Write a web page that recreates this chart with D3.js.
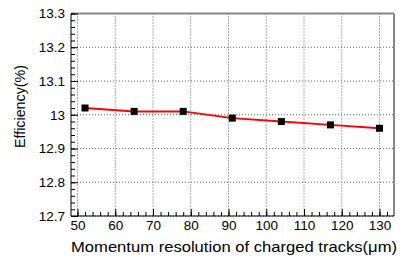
<!DOCTYPE html>
<html><head><meta charset="utf-8">
<script src="https://cdn.jsdelivr.net/npm/d3@7"></script>
<style>body{margin:0;background:#fff}svg{display:block}text{font-family:"Liberation Sans",Arial,sans-serif}</style>
</head><body><svg id="c" width="415" height="271"></svg>
<script>
const resolution = [52, 65, 78, 91, 104, 117, 130];
const efficiency = [13.02, 13.01, 13.01, 12.99, 12.98, 12.97, 12.96];
const xTicks = [50, 60, 70, 80, 90, 100, 110, 120, 130];
const yTicks = [12.7, 12.8, 12.9, 13.0, 13.1, 13.2, 13.3];
const yTickLabels = ["12.7", "12.8", "12.9", "13", "13.1", "13.2", "13.3"];
const xTitle = "Momentum resolution of charged tracks(\u03bcm)";
const yTitle = "Efficiency(%)";

const L = 71, R = 394, T = 13.5, B = 216;
const svg = d3.select("#c");
const x = d3.scaleLinear().domain([48.28, 133.84]).range([L, R]);
const y = d3.scaleLinear().domain([12.7, 13.3]).range([B, T]);

// grid
const g = svg.append("g");
xTicks.forEach(v => g.append("line").attr("x1", x(v)).attr("x2", x(v)).attr("y1", T).attr("y2", B)
  .attr("stroke", "#666").attr("stroke-width", 1).attr("stroke-dasharray", "1,2"));
yTicks.forEach(v => g.append("line").attr("x1", L).attr("x2", R).attr("y1", y(v)).attr("y2", y(v))
  .attr("stroke", "#666").attr("stroke-width", 1).attr("stroke-dasharray", "1,2"));

// frame top/right
svg.append("line").attr("x1", L).attr("x2", R).attr("y1", T).attr("y2", T).attr("stroke", "#888").attr("stroke-width", 2);
svg.append("line").attr("x1", R).attr("x2", R).attr("y1", T).attr("y2", B).attr("stroke", "#888").attr("stroke-width", 2);

// axes
const xMinor = d3.range(50, 134, 2);
const yMinor = d3.range(0, 31).map(i => 12.7 + i * 0.02);
const xAxis = d3.axisBottom(x).tickValues(xTicks).tickSize(-7).tickFormat(d3.format("d")).tickPadding(4);
const xa = svg.append("g").attr("transform", `translate(0,${B})`).call(xAxis);
xa.select(".domain").attr("d", `M${L},0H${R}`).attr("stroke", "#000");
xa.selectAll("text").attr("font-size", 13.5).attr("fill", "#000");
const xm = svg.append("g").attr("transform", `translate(0,${B})`).call(d3.axisBottom(x).tickValues(xMinor).tickSize(-4).tickFormat(""));
xm.select(".domain").remove();

const yAxis = d3.axisLeft(y).tickValues(yTicks).tickSize(-7).tickFormat((d, i) => yTickLabels[i]).tickPadding(6);
const ya = svg.append("g").attr("transform", `translate(${L},0)`).call(yAxis);
ya.select(".domain").attr("d", `M0,${T}V${B}`).attr("stroke", "#000");
ya.selectAll("text").attr("font-size", 13.5).attr("fill", "#000");
const ym = svg.append("g").attr("transform", `translate(${L},0)`).call(d3.axisLeft(y).tickValues(yMinor).tickSize(-4).tickFormat(""));
ym.select(".domain").remove();

// line
const pts = resolution.map((r, i) => [r, efficiency[i]]);
svg.append("path").datum(pts).attr("fill", "none").attr("stroke", "#f00").attr("stroke-width", 2)
  .attr("d", d3.line().x(d => x(d[0])).y(d => y(d[1])));
svg.selectAll("rect.m").data(pts).join("rect").attr("class", "m")
  .attr("x", d => x(d[0]) - 3.5).attr("y", d => y(d[1]) - 3.5).attr("width", 7).attr("height", 7).attr("fill", "#000");

// titles
svg.append("text").attr("x", 71).attr("y", 251.5).attr("font-size", 14.5)
  .attr("textLength", 326).attr("lengthAdjust", "spacingAndGlyphs").text(xTitle);
svg.append("text").attr("transform", "translate(25,148) rotate(-90)").attr("font-size", 15)
  .attr("textLength", 83).attr("lengthAdjust", "spacingAndGlyphs").text(yTitle);
</script></body></html>
